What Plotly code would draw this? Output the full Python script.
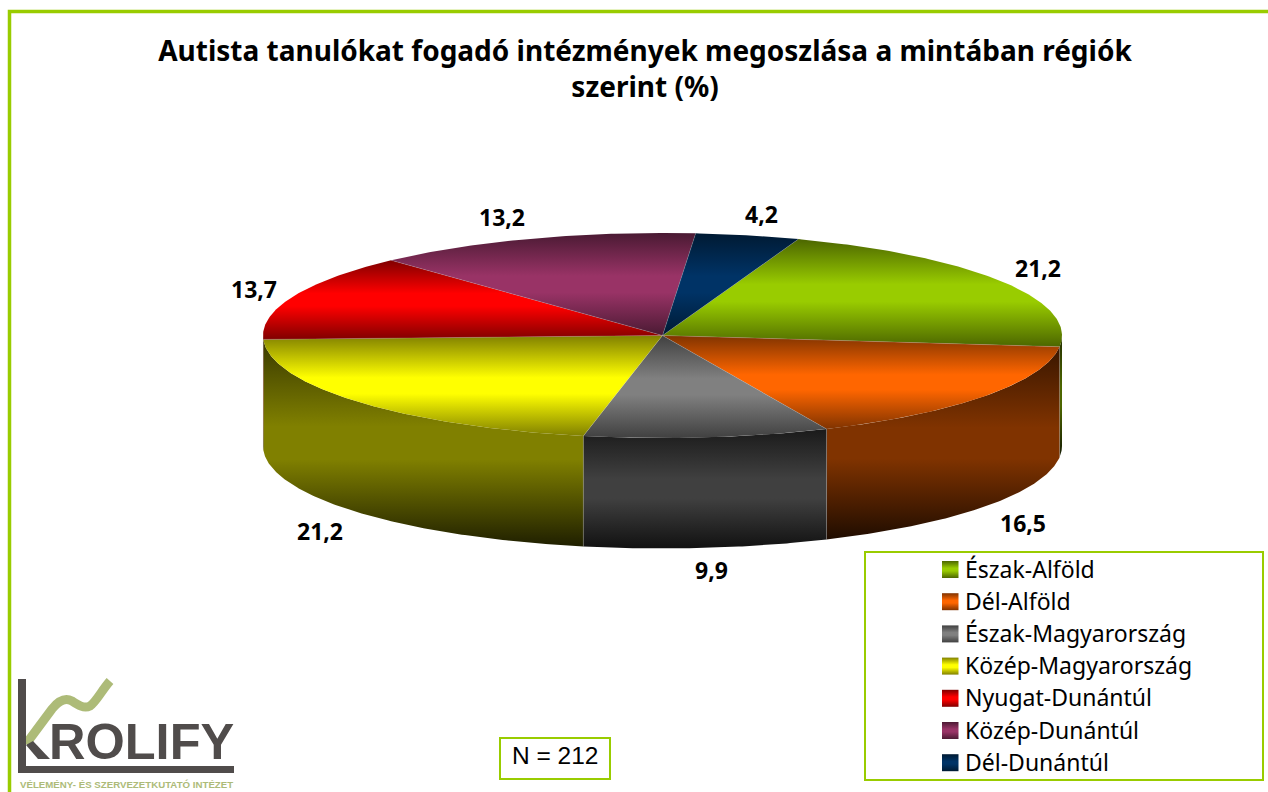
import numpy as np
import plotly.graph_objects as go

# ---- data ----
categories = ["Észak-Alföld", "Dél-Alföld", "Észak-Magyarország", "Közép-Magyarország",
              "Nyugat-Dunántúl", "Közép-Dunántúl", "Dél-Dunántúl"]
values = [21.2, 16.5, 9.9, 21.2, 13.7, 13.2, 4.2]
colors = ["#99cc00", "#ff6600", "#808080", "#ffff00", "#ff0000", "#993366", "#003366"]
title_text = "Autista tanulókat fogadó intézmények megoszlása a mintában régiók<br>szerint (%)"
n_text = "N = 212"

# ---- layout constants (page pixels) ----
W, H = 1268, 792
CX, CY, RX, RY, DEPTH = 662.5, 335.5, 399.5, 102.5, 110.5
START_DEG = 19.9
LABEL_XY = [(1038, 268), (1023, 523), (711, 570), (320, 531), (254, 289), (502, 217), (761, 214)]
FRAME = "#99cc00"
LOGO_GREY = "#504c4b"
LOGO_GREEN = "#adbb78"
HEAD = "Noto Sans"


def scale(hex_color, k):
    r, g, b = (int(hex_color[i:i + 2], 16) for i in (1, 3, 5))
    return f"rgb({r * k:.0f},{g * k:.0f},{b * k:.0f})"


def grad(ys, mid, edge_top, edge_bottom):
    return dict(type="vertical", start=float(np.min(ys)), stop=float(np.max(ys)),
                colorscale=[[0, edge_top], [0.42, mid], [0.58, mid], [1, edge_bottom]])


def arc(a0, a1):
    t = np.radians(np.linspace(a0, a1, max(3, int(abs(a1 - a0) * 2))))
    return CX + RX * np.sin(t), CY - RY * np.cos(t)


shares = np.array(values) / sum(values) * 360.0
edges = START_DEG + np.concatenate([[0], np.cumsum(shares)])

fig = go.Figure()

# visible side walls (front half of the disc, 90°..270° from the top)
for name, col, a0, a1 in zip(categories, colors, edges[:-1], edges[1:]):
    s0, s1 = max(a0, 90.0), min(a1, 270.0)
    if s1 <= s0:
        continue
    x, y = arc(s0, s1)
    px = np.concatenate([x, x[::-1]])
    py = np.concatenate([y, y[::-1] + DEPTH])
    if col == "#808080":
        ramp = grad(py, "#404040", "#1a1a1a", "#111111")
    else:
        ramp = grad(py, scale(col, 0.5), scale(col, 0.22), scale(col, 0.12))
    fig.add_trace(go.Scatter(x=px, y=py, mode="lines", line=dict(width=0), fill="toself",
                             fillgradient=ramp, name=name + " (oldal)", hoverinfo="skip",
                             showlegend=False))

# top faces
for name, col, val, a0, a1 in zip(categories, colors, values, edges[:-1], edges[1:]):
    x, y = arc(a0, a1)
    px = np.concatenate([[CX], x, [CX]])
    py = np.concatenate([[CY], y, [CY]])
    edge = scale(col, 0.5)
    if col == "#993366":
        edge = "#4a1a33"
    if col == "#003366":
        edge = "#001a33"
    fig.add_trace(go.Scatter(x=px, y=py, mode="lines", line=dict(width=0), fill="toself",
                             fillgradient=grad(py, col, edge, edge), name=name,
                             text=f"{name}: {val}", hoverinfo="text", showlegend=False))

# thin seams between the slices
sx, sy = [], []
for a in edges[:-1]:
    ex, ey = arc(a, a)
    sx += [CX, ex[0], None]
    sy += [CY, ey[0], None]
    if 90 <= (a % 360) <= 270:
        sx += [ex[0], ex[0], None]
        sy += [ey[0], ey[0] + DEPTH, None]
fig.add_trace(go.Scatter(x=sx, y=sy, mode="lines", line=dict(width=0.6, color="rgba(190,190,190,0.4)"),
                         hoverinfo="skip", showlegend=False))

annotations = []
# value labels
for val, (lx, ly) in zip(values, LABEL_XY):
    annotations.append(dict(x=lx, y=ly, text=f"<b>{val:.1f}</b>".replace(".", ","), showarrow=False,
                            font=dict(family=HEAD, size=23, color="#000000")))

# legend drawn by hand: gradient swatches and text
LEG_X0, LEG_Y0, LEG_DY = 942, 569.5, 32.2
for i, (name, col) in enumerate(zip(categories, colors)):
    yc = LEG_Y0 + i * LEG_DY
    px = [LEG_X0, LEG_X0 + 16.5, LEG_X0 + 16.5, LEG_X0, LEG_X0]
    py = [yc - 8.5, yc - 8.5, yc + 8.5, yc + 8.5, yc - 8.5]
    edge = scale(col, 0.5)
    fig.add_trace(go.Scatter(x=px, y=py, mode="lines", line=dict(width=0), fill="toself",
                             fillgradient=grad(py, col, edge, edge), hoverinfo="skip",
                             showlegend=False))
    annotations.append(dict(x=963, y=yc - 1, xanchor="left", text=name, showarrow=False,
                            font=dict(family=HEAD, size=23, color="#000000")))

annotations.append(dict(x=555, y=755, text=n_text, showarrow=False,
                        font=dict(family="Liberation Sans", size=24.5, color="#000000")))
annotations.append(dict(x=141, y=741, text="<b>ROLIFY</b>", showarrow=False,
                        font=dict(family="Liberation Sans", size=50.5, color=LOGO_GREY)))
annotations.append(dict(x=126, y=784, text="<b>VÉLEMÉNY- ÉS SZERVEZETKUTATÓ INTÉZET</b>", showarrow=False,
                        font=dict(family="Liberation Sans", size=9.7, color=LOGO_GREEN)))

shapes = [
    dict(type="rect", x0=9.5, x1=W + 5, y0=11.5, y1=H + 5, line=dict(color=FRAME, width=3.5)),
    dict(type="rect", x0=865, x1=1263, y0=552, y1=780, line=dict(color=FRAME, width=2)),
    dict(type="rect", x0=500, x1=610, y0=738, y1=779, line=dict(color=FRAME, width=2)),
    # logo
    dict(type="path", path="M 26 744 L 52 709 C 60 699 66 698 72 701 C 78 705 84 709 90 706 C 96 702 102 690 110 681",
         line=dict(color=LOGO_GREEN, width=9)),
    dict(type="rect", x0=18, x1=26, y0=679, y1=773, fillcolor=LOGO_GREY, line=dict(width=0)),
    dict(type="rect", x0=18, x1=234, y0=766, y1=773, fillcolor=LOGO_GREY, line=dict(width=0)),
    dict(type="path", path="M 26 745 L 33 741 L 50 759 L 38 759 Z", fillcolor=LOGO_GREY, line=dict(width=0)),
]

fig.update_layout(
    width=W, height=H, autosize=False,
    margin=dict(l=0, r=0, t=0, b=0),
    paper_bgcolor="#ffffff", plot_bgcolor="#ffffff",
    showlegend=False,
    title=dict(text=f"<b>{title_text}</b>", x=645 / W, xanchor="center", y=1 - 61 / H, yanchor="middle",
               font=dict(family=HEAD, size=28, color="#000000")),
    xaxis=dict(range=[0, W], visible=False, fixedrange=True),
    yaxis=dict(range=[H, 0], visible=False, fixedrange=True),
    annotations=annotations,
    shapes=shapes,
)

fig.write_html("out.html", config=dict(displayModeBar=False),
               post_script="document.body.style.margin='0';document.body.style.overflow='hidden';")
